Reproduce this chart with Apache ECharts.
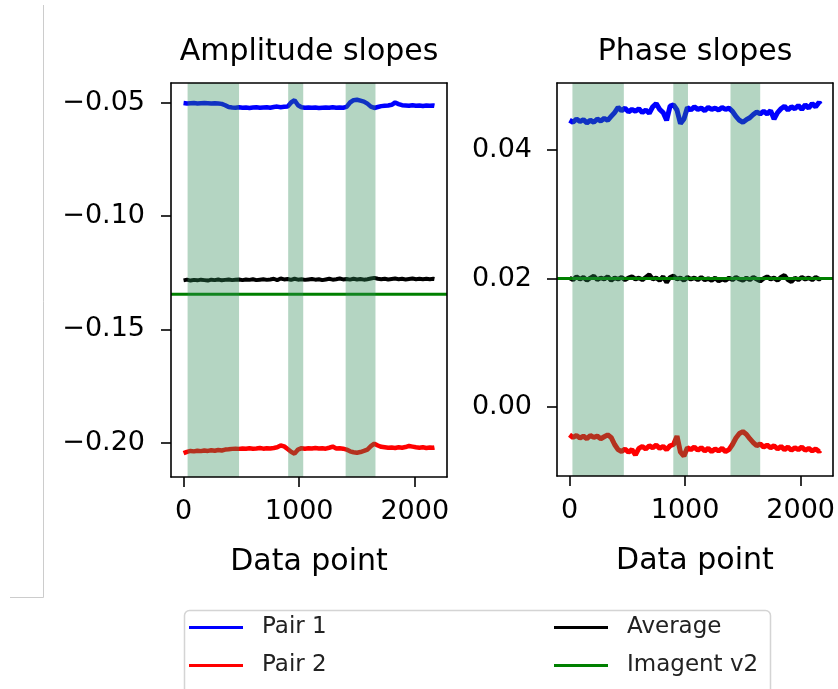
<!DOCTYPE html>
<html>
<head>
<meta charset="utf-8">
<script src="https://cdn.jsdelivr.net/npm/echarts@6/dist/echarts.min.js"></script>
<style>
html,body{margin:0;padding:0;background:#fff;}
#chart{width:838px;height:689px;}
</style>
</head>
<body>
<div id="chart"></div>
<script>
// ---- data ----
const dataPoints = [0,30,60,90,120,150,180,210,240,270,300,330,360,390,420,450,480,510,540,570,600,630,660,690,720,750,780,810,840,870,900,930,960,990,1020,1050,1080,1110,1140,1170,1200,1230,1260,1290,1320,1350,1380,1410,1440,1470,1500,1530,1560,1590,1620,1650,1680,1710,1740,1770,1800,1830,1860,1890,1920,1950,1980,2010,2040,2070,2100,2130,2160,2170];

const ampPair1 = [-0.0502,-0.0504,-0.0503,-0.0502,-0.0504,-0.0503,-0.0502,-0.0503,-0.0504,-0.0503,-0.0504,-0.0506,-0.0512,-0.0520,-0.0522,-0.0523,-0.0521,-0.0523,-0.0522,-0.0524,-0.0522,-0.0521,-0.0523,-0.0522,-0.0521,-0.0523,-0.0520,-0.0518,-0.0521,-0.0519,-0.0518,-0.0500,-0.0490,-0.0512,-0.0521,-0.0523,-0.0522,-0.0523,-0.0522,-0.0524,-0.0523,-0.0522,-0.0523,-0.0521,-0.0523,-0.0522,-0.0523,-0.0519,-0.0500,-0.0490,-0.0488,-0.0492,-0.0496,-0.0505,-0.0518,-0.0524,-0.0520,-0.0516,-0.0514,-0.0513,-0.0510,-0.0500,-0.0507,-0.0512,-0.0513,-0.0514,-0.0512,-0.0514,-0.0513,-0.0515,-0.0513,-0.0514,-0.0513,-0.0514];
const ampPair2 = [-0.2046,-0.2040,-0.2036,-0.2038,-0.2035,-0.2037,-0.2034,-0.2036,-0.2033,-0.2035,-0.2032,-0.2034,-0.2030,-0.2029,-0.2027,-0.2026,-0.2027,-0.2025,-0.2026,-0.2024,-0.2026,-0.2025,-0.2023,-0.2026,-0.2024,-0.2025,-0.2023,-0.2020,-0.2012,-0.2016,-0.2028,-0.2040,-0.2048,-0.2030,-0.2024,-0.2026,-0.2024,-0.2025,-0.2023,-0.2025,-0.2024,-0.2026,-0.2022,-0.2017,-0.2025,-0.2024,-0.2026,-0.2030,-0.2038,-0.2042,-0.2044,-0.2041,-0.2036,-0.2030,-0.2015,-0.2004,-0.2012,-0.2018,-0.2020,-0.2022,-0.2021,-0.2023,-0.2020,-0.2022,-0.2019,-0.2014,-0.2017,-0.2020,-0.2022,-0.2020,-0.2023,-0.2021,-0.2022,-0.2021];
const ampAverage = [-0.1284,-0.1281,-0.1285,-0.1282,-0.1284,-0.1281,-0.1283,-0.1285,-0.1281,-0.1283,-0.1280,-0.1284,-0.1282,-0.1280,-0.1283,-0.1281,-0.1280,-0.1283,-0.1280,-0.1282,-0.1279,-0.1283,-0.1281,-0.1279,-0.1282,-0.1280,-0.1277,-0.1283,-0.1276,-0.1280,-0.1278,-0.1282,-0.1277,-0.1281,-0.1279,-0.1282,-0.1280,-0.1278,-0.1281,-0.1279,-0.1283,-0.1280,-0.1277,-0.1281,-0.1279,-0.1276,-0.1280,-0.1278,-0.1281,-0.1277,-0.1280,-0.1278,-0.1281,-0.1279,-0.1276,-0.1273,-0.1277,-0.1279,-0.1277,-0.1280,-0.1278,-0.1276,-0.1279,-0.1277,-0.1280,-0.1278,-0.1276,-0.1279,-0.1277,-0.1279,-0.1277,-0.1279,-0.1277,-0.1278];
const ampImagent = -0.1345;

const phasePair1 = [0.0446,0.0443,0.0448,0.0444,0.0447,0.0442,0.0446,0.0443,0.0448,0.0445,0.0449,0.0446,0.0452,0.0458,0.0466,0.0461,0.0465,0.0459,0.0463,0.0460,0.0464,0.0458,0.0462,0.0457,0.0467,0.0472,0.0463,0.0458,0.0446,0.0468,0.0470,0.0462,0.0441,0.0448,0.0466,0.0462,0.0467,0.0463,0.0465,0.0461,0.0466,0.0463,0.0465,0.0462,0.0466,0.0463,0.0465,0.0460,0.0452,0.0446,0.0443,0.0447,0.0450,0.0455,0.0459,0.0456,0.0460,0.0456,0.0461,0.0448,0.0458,0.0464,0.0468,0.0462,0.0467,0.0464,0.0469,0.0463,0.0470,0.0465,0.0472,0.0467,0.0474,0.0471];
const phasePair2 = [-0.0043,-0.0047,-0.0044,-0.0048,-0.0045,-0.0049,-0.0044,-0.0047,-0.0045,-0.0049,-0.0046,-0.0043,-0.0047,-0.0058,-0.0066,-0.0069,-0.0065,-0.0070,-0.0066,-0.0074,-0.0064,-0.0061,-0.0065,-0.0060,-0.0063,-0.0059,-0.0064,-0.0061,-0.0066,-0.0060,-0.0058,-0.0045,-0.0070,-0.0076,-0.0063,-0.0066,-0.0062,-0.0067,-0.0063,-0.0068,-0.0064,-0.0069,-0.0065,-0.0068,-0.0064,-0.0069,-0.0066,-0.0058,-0.0048,-0.0041,-0.0038,-0.0042,-0.0049,-0.0055,-0.0060,-0.0057,-0.0062,-0.0059,-0.0063,-0.0060,-0.0065,-0.0061,-0.0066,-0.0062,-0.0067,-0.0063,-0.0066,-0.0062,-0.0067,-0.0064,-0.0068,-0.0065,-0.0069,-0.0067];
const phaseAverage = [0.0201,0.0198,0.0203,0.0199,0.0202,0.0197,0.0201,0.0204,0.0198,0.0201,0.0199,0.0203,0.0197,0.0201,0.0199,0.0202,0.0198,0.0201,0.0203,0.0199,0.0201,0.0198,0.0202,0.0206,0.0199,0.0201,0.0197,0.0203,0.0194,0.0202,0.0204,0.0199,0.0201,0.0197,0.0202,0.0199,0.0201,0.0198,0.0202,0.0198,0.0200,0.0197,0.0201,0.0196,0.0199,0.0197,0.0201,0.0198,0.0202,0.0199,0.0197,0.0201,0.0198,0.0202,0.0199,0.0196,0.0200,0.0203,0.0199,0.0201,0.0197,0.0202,0.0205,0.0198,0.0195,0.0201,0.0198,0.0202,0.0199,0.0201,0.0198,0.0202,0.0199,0.0200];
const phaseImagent = 0.0200;

const ampShade = [[35,480],[905,1035],[1402,1660]];
const phaseShade = [[25,470],[898,1025],[1393,1650]];

const xTicks = [0,1000,2000];
const ampTicks = [-0.20,-0.15,-0.10,-0.05];
const phaseTicks = [0.00,0.02,0.04];

const titles = ['Amplitude slopes','Phase slopes'];
const xName = 'Data point';
const legendLeft = ['Pair 1','Pair 2'];
const legendRight = ['Average','Imagent v2'];

// ---- styling ----
const FONT = 'DejaVu Sans';
const C = {p1:'#0000ff', p2:'#ff0000', avg:'#000000', img:'#008000', shade:'rgba(46,139,87,0.36)'};
const X_MIN = -108.5, X_MAX = 2278.5;

function pairs(vals){ return dataPoints.map((x,i)=>[x, vals[i]]); }
function fmtMinus(v){ return (v < 0 ? '\u2212' : '') + Math.abs(v).toFixed(2); }

const frameLine = {show:true, onZero:false, lineStyle:{color:'#000', width:1.6}};

function bottomX(grid){
  return {
    gridIndex:grid, type:'value', position:'bottom', min:X_MIN, max:X_MAX, z:10,
    axisLine:frameLine,
    axisTick:{show:true, customValues:xTicks, length:10, lineStyle:{color:'#000', width:1.6}},
    axisLabel:{show:true, customValues:xTicks, formatter:v=>String(v), margin:21, fontSize:27, color:'#000', fontFamily:FONT},
    splitLine:{show:false},
    name:xName, nameLocation:'middle', nameGap:70,
    nameTextStyle:{fontSize:30, color:'#000', fontFamily:FONT}
  };
}
function topX(grid){
  return {gridIndex:grid, type:'value', position:'top', min:X_MIN, max:X_MAX, z:10,
    axisLine:frameLine, axisTick:{show:false}, axisLabel:{show:false}, splitLine:{show:false}};
}
function leftY(grid, min, max, ticks, fmt, margin){
  return {
    gridIndex:grid, type:'value', position:'left', min:min, max:max, z:10,
    axisLine:frameLine,
    axisTick:{show:true, customValues:ticks, length:10, lineStyle:{color:'#000', width:1.6}},
    axisLabel:{show:true, customValues:ticks, formatter:fmt, margin:margin, fontSize:27, color:'#000', fontFamily:FONT},
    splitLine:{show:false}
  };
}
function rightY(grid, min, max){
  return {gridIndex:grid, type:'value', position:'right', min:min, max:max, z:10,
    axisLine:frameLine, axisTick:{show:false}, axisLabel:{show:false}, splitLine:{show:false}};
}

function lineSeries(name, vals, color, xi, yi, width){
  return {name:name, type:'line', xAxisIndex:xi, yAxisIndex:yi, data:pairs(vals),
    symbol:'none', z:2, animation:false, silent:true,
    lineStyle:{color:color, width:width}, itemStyle:{color:color}};
}
// horizontal reference line spanning the whole axis range
function imagentSeries(value, xi, yi){
  return {name:'Imagent v2', type:'line', xAxisIndex:xi, yAxisIndex:yi,
    data:[[X_MIN, value],[X_MAX, value]],
    symbol:'none', z:3, animation:false, silent:true,
    lineStyle:{color:C.img, width:3}, itemStyle:{color:C.img}};
}
function shadeSeries(spans, xi, yi){
  return {type:'custom', name:'shade', xAxisIndex:xi, yAxisIndex:yi, z:4, silent:true, animation:false,
    data:spans, encode:{x:[0,1]},
    renderItem:function(params, api){
      const cs = params.coordSys;
      const x0 = api.coord([api.value(0), 0])[0];
      const x1 = api.coord([api.value(1), 0])[0];
      return {type:'rect', shape:{x:x0, y:cs.y, width:x1-x0, height:cs.height},
        style:{fill:C.shade}};
    }};
}

const legendCommon = {
  orient:'vertical', padding:0, itemWidth:54, itemHeight:3.2, itemGap:15,
  selectedMode:false, icon:'rect',
  textStyle:{fontSize:23, color:'#222', fontFamily:FONT, padding:[0,0,0,14]}
};

const option = {
  backgroundColor:'#fff',
  animation:false,
  title:[
    {text:titles[0], left:309, top:37, textAlign:'center', padding:0,
      textStyle:{fontSize:30, fontWeight:'normal', color:'#000', fontFamily:FONT}},
    {text:titles[1], left:695, top:37, textAlign:'center', padding:0,
      textStyle:{fontSize:30, fontWeight:'normal', color:'#000', fontFamily:FONT}}
  ],
  grid:[
    {left:171, top:83, width:276, height:394},
    {left:557, top:83, width:276, height:393}
  ],
  xAxis:[bottomX(0), topX(0), bottomX(1), topX(1)],
  yAxis:[
    leftY(0, -0.2151, -0.0414, ampTicks, fmtMinus, 26), rightY(0, -0.2151, -0.0414),
    leftY(1, -0.0107, 0.0504, phaseTicks, v=>v.toFixed(2), 25), rightY(1, -0.0107, 0.0504)
  ],
  legend:[
    Object.assign({}, legendCommon, {left:189, top:616, data:legendLeft}),
    Object.assign({}, legendCommon, {left:554, top:616, data:legendRight})
  ],
  graphic:[
    {type:'line', silent:true, shape:{x1:43.5, y1:5, x2:43.5, y2:597.5}, style:{stroke:'#cccccc', lineWidth:1}},
    {type:'line', silent:true, shape:{x1:10, y1:597.5, x2:43.5, y2:597.5}, style:{stroke:'#cccccc', lineWidth:1}},
    {type:'rect', silent:true, z:-1, shape:{x:184.5, y:610.5, width:586, height:100, r:5},
      style:{fill:'#fff', stroke:'#d4d4d4', lineWidth:1.5}}
  ],
  series:[
    lineSeries('Pair 1', ampPair1, C.p1, 0, 0, 4.5),
    lineSeries('Pair 2', ampPair2, C.p2, 0, 0, 4.5),
    lineSeries('Average', ampAverage, C.avg, 0, 0, 4),
    imagentSeries(ampImagent, 0, 0),
    shadeSeries(ampShade, 0, 0),
    lineSeries('Pair 1', phasePair1, C.p1, 2, 2, 5),
    lineSeries('Pair 2', phasePair2, C.p2, 2, 2, 5),
    lineSeries('Average', phaseAverage, C.avg, 2, 2, 4.5),
    imagentSeries(phaseImagent, 2, 2),
    shadeSeries(phaseShade, 2, 2)
  ]
};

const chart = echarts.init(document.getElementById('chart'), null, {renderer:'canvas'});
chart.setOption(option);
</script>
</body>
</html>
